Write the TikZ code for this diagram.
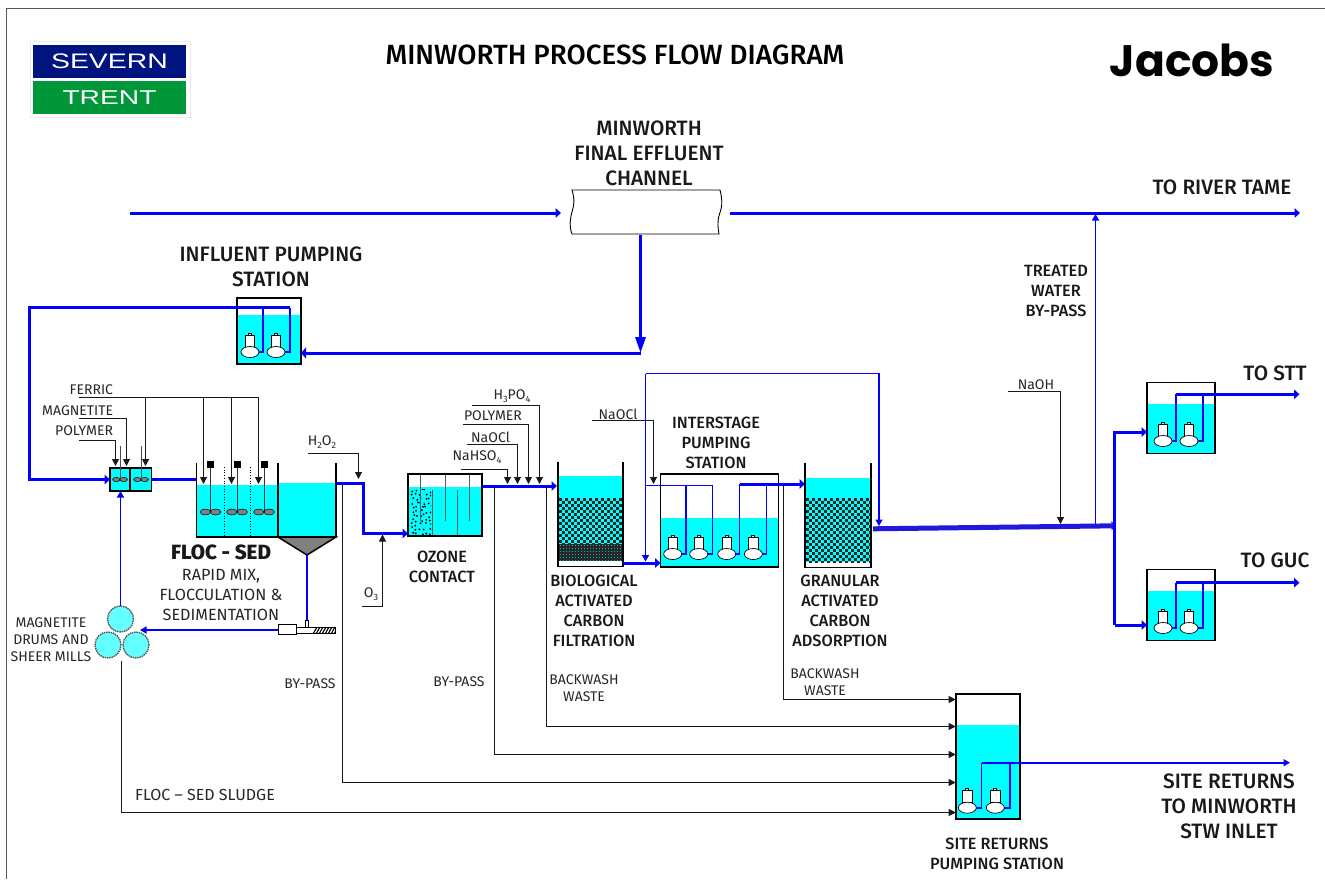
\documentclass[tikz,border=0pt]{standalone}
\usepackage{fontspec}
\setmainfont{Fira Sans}
\newfontfamily\medf{Fira Sans Medium}
\newfontfamily\logof{Liberation Sans}
\newfontfamily\jacf{Poppins}
\usetikzlibrary{arrows.meta,calc}
\definecolor{wat}{HTML}{00FFFF}
\definecolor{flow}{HTML}{0000FF}
\definecolor{flowd}{HTML}{2218DC}
\definecolor{frame}{HTML}{555555}
\definecolor{stblue}{HTML}{00147F}
\definecolor{stgreen}{HTML}{00963A}
\definecolor{drum}{HTML}{66FFFF}
\newcommand{\sbs}[1]{\raisebox{-0.35ex}{\scalebox{0.65}{#1}}}
\newcommand{\chk}[5]{% x1 x2 y1 y2 pitch
  \fill[wat] (#1,#3) rectangle (#2,#4);
  \begin{scope}
  \clip (#1,#3) rectangle (#2,#4);
  \pgfmathsetmacro{\nr}{int((#4-#3)/(#5))}
  \foreach \i in {0,...,\nr}{
    \pgfmathsetmacro{\ph}{mod(\i,2)*(#5)}
    \pgfmathsetmacro{\yy}{#3+(\i+0.5)*(#5)}
    \draw[black!85,line width=#5 pt,dash pattern=on #5 pt off #5 pt,dash phase=\ph pt] (#1,\yy) -- (#2,\yy);
  }
  \end{scope}}
\tikzset{
  every node/.style={inner sep=0pt,outer sep=0pt},
  lab/.style={font=\medf\fontsize{16.3}{20}\selectfont,align=center,text=black!90},
  sml/.style={font=\fontsize{14}{17}\selectfont,align=center,text=black!85},
  huge lab/.style={lab,font=\medf\fontsize{20.8}{25}\selectfont},
  anch/.style={rectangle,minimum width=#1},
  boxn/.style={rectangle,draw=black,line width=1.8pt},
  wall/.style={draw=black,line width=1.8pt},
  main/.style={draw=flow,line width=3pt},
  mainar/.style={main,-{Triangle[length=5.5pt,width=9.5pt]}},
  riser/.style={draw=flow,line width=1.7pt},
  thinar/.style={riser,-{Triangle[length=6.5pt,width=7pt]}},
  chem/.style={draw=black!90,line width=1pt},
  chemar/.style={chem,-{Triangle[length=7pt,width=7pt]}},
  pumpunit/.pic={
    \draw[black,line width=0.7pt,fill=white] (-1.5,-19) rectangle (1.5,-17);
    \draw[black,line width=0.7pt,fill=white] (-4.7,-17) rectangle (4.7,-5);
    \draw[black,line width=0.7pt,fill=white] (0,0) ellipse (9 and 5.5);
    \coordinate (-out) at (8.5,0);
  },
  imp/.pic={
    \draw[black,line width=0.5pt,fill=black!50] (-#1,0) ellipse (#1 and 0.58*#1);
    \draw[black,line width=0.5pt,fill=black!50] (#1,0) ellipse (#1 and 0.58*#1);
  },
}
\begin{document}
\begin{tikzpicture}[x=1pt,y=-1pt]
\useasboundingbox (0,0) rectangle (1325,879);
% frame
\coordinate (fa) at (6,879); \coordinate (fb) at (6,8); \coordinate (fc) at (1325,8);
\draw[frame,line width=1pt] (fa) -- (fb) -- (fc);
% logos
\draw[black!8,fill=white,line width=0.8pt] (30,41) rectangle (190,117);
\node[fill=stblue,minimum width=153pt,minimum height=33pt,text=white,font=\logof\fontsize{20}{24}\selectfont] (sv) at (109.5,61.5) {\scalebox{1.42}[1.05]{SEVERN}};
\node[fill=stgreen,minimum width=153pt,minimum height=33pt,text=white,font=\logof\fontsize{20}{24}\selectfont] (tr) at (109.5,97.5) {\scalebox{1.41}[1]{TRENT}};
\node[font=\jacf\bfseries\fontsize{44}{50}\selectfont] (jac) at (1192,60) {Jacobs};
\node[font=\medf\fontsize{27.8}{32}\selectfont] (title) at (615,55) {MINWORTH PROCESS FLOW DIAGRAM};

% --- water
\fill[wat] (238,315) rectangle (300,364);
\fill[wat] (111,468) rectangle (151,491);
\fill[wat] (197,485) rectangle (278,536);
\fill[wat] (278,483) rectangle (336,536);
\fill[wat] (409,487) rectangle (481,535);
\fill[wat] (559,476) rectangle (622,498);
\chk{559}{622}{498}{544}{3}
\fill[black!85] (559,544) rectangle (622,561);
\foreach \i in {0,...,20}{\foreach \j in {0,...,5}{
  \fill[wat!75!black] ({560+3*\i},{545+3*\j}) rectangle ({561.3+3*\i},{546.3+3*\j});}}
\fill[wat] (661,518) rectangle (778,566);
\fill[wat] (806,478) rectangle (870,498);
\chk{806}{870}{498}{562}{3}
\fill[wat] (1147,404) rectangle (1215,453);
\fill[wat] (1147,591) rectangle (1215,640);
\fill[wat] (956,725) rectangle (1019,819);

% --- channel
\draw[black,line width=0.9pt,fill=white] (572,190) -- (720,190) .. controls (722,198) and (723,205) .. (719.5,214) .. controls (717,222) and (718,228) .. (719,234) -- (572,234) .. controls (569,226) and (570,220) .. (572,212) .. controls (574,205) and (575,200) .. (572,190) -- cycle;
\node[anch=150pt,minimum height=44pt] (chan) at (646,212) {};
\coordinate (rawin) at (130,213);
\coordinate (chl) at (561,213);
\coordinate (chr) at (730,213);
\coordinate (river) at (1300,213);
\coordinate (chd) at (640.5,235);
\coordinate (chj) at (640.5,353);
\draw[mainar] (rawin) -- (chl);
\draw[mainar] (chr) -- (river);
\draw[draw=flow,line width=3pt,-{Triangle[length=16pt,width=10pt]}] (chd) -- (chj);

% --- influent PS
\node[boxn,minimum width=64pt,minimum height=66pt] (ips) at (269,331) {};
\pic (ipa) at (250,352) {pumpunit};
\pic (ipb) at (276,352) {pumpunit};
\coordinate (ipr1) at (263,307.5);
\coordinate (ipr2) at (290,307.5);
\draw[riser] (ipa-out) -| (ipr1);
\draw[riser] (ipb-out) -| (ipr2);
\draw[draw=flow,line width=3pt,-{Triangle[length=5pt,width=11pt]}] (chj) -- (ips.east |- chj);
\coordinate (inl) at (29,307.5);
\coordinate (inb) at (29,479.5);

% --- mix tanks
\node[boxn,minimum width=20pt,minimum height=23pt] (mxa) at (120,479.5) {};
\node[boxn,minimum width=21pt,minimum height=23pt] (mxb) at (141,479.5) {};
\draw[mainar] (ipr2) -- (inl) -- (inb) -- (mxa.west);
\coordinate (fl) at (196,479.5);
\draw[main] (mxb.east) -- (fl);
\pic at (120,479.5) {imp=3.7};
\pic at (141,479.5) {imp=3.7};
\coordinate (sa) at (120,446); \coordinate (sb) at (141,446);
\coordinate (sa2) at (120,479); \coordinate (sb2) at (141,479);
\draw[black!70,line width=0.8pt] (sa) -- (sa2);
\draw[black!70,line width=0.8pt] (sb) -- (sb2);

% --- floc sed
\path[wall] (196.5,463) -- (196.5,537) -- (336,537) -- (336,463);
\path[wall] (278,463) -- (278,537);
\draw[black,line width=1.5pt,fill=black!50] (278,537) -- (336,537) -- (307,555) -- cycle;
\draw[black,dotted,line width=0.7pt] (224,467) -- (224,536);
\draw[black,dotted,line width=0.7pt] (250.5,467) -- (250.5,536);
\foreach \n/\x in {fa/210.5,fb/237,fc/264}{
  \node[fill=black,minimum size=7pt] (sq\n) at (\x,464.5) {};
  \coordinate (sh\n) at (\x,512);
  \draw[black!80,line width=0.8pt] (sq\n) -- (sh\n);
  \pic at (sh\n) {imp=5.2};
}

% --- screw / drums
\coordinate (cone) at (307,555);
\coordinate (tee) at (307,623);
\draw[riser] (cone) -- (tee);
\draw[black,line width=0.6pt,fill=white] (305.5,620) rectangle (308.5,627);
\draw[black,line width=0.7pt,fill=white] (296,627) rectangle (335,633.5);
\begin{scope}
\clip (313,627) rectangle (335,633.5);
\foreach \i in {0,...,7}{\draw[black,line width=1.1pt] ({313+3*\i},634) -- ({317+3*\i},627);}
\end{scope}
\node[draw=black,line width=0.7pt,fill=white,minimum width=18pt,minimum height=10pt] (scr) at (287,629.5) {};
\node[circle,draw=black!65,dash pattern=on 1.5pt off 0.8pt,line width=1.4pt,fill=drum,minimum size=26pt] (da) at (120.5,619) {};
\node[circle,draw=black!65,dash pattern=on 1.5pt off 0.8pt,line width=1.4pt,fill=drum,minimum size=26pt] (db) at (108,645) {};
\node[circle,draw=black!65,dash pattern=on 1.5pt off 0.8pt,line width=1.4pt,fill=drum,minimum size=26pt] (dc) at (136,645) {};
\coordinate (drin) at (140,630);
\draw[thinar] (scr.west |- drin) -- (drin);
\draw[thinar] (da.north) -- (mxa.south -| da.north);

% --- chemicals at head
\coordinate (fe0) at (79,397.5); \coordinate (fe3) at (258.5,397.5);
\draw[chem] (fe0) -- (fe3);
\foreach \n/\x/\y in {a/145.5/466,b/203.5/484,c/231.5/484,d/258.5/484}{
  \coordinate (fet\n) at (\x,397.5); \coordinate (feb\n) at (\x,\y);
  \draw[chemar] (fet\n) -- (feb\n);
}
\coordinate (mg0) at (79,418.5); \coordinate (mg1) at (126.5,418.5); \coordinate (mg2) at (126.5,466);
\draw[chemar] (mg0) -- (mg1) -- (mg2);
\coordinate (po0) at (79,440.5); \coordinate (po1) at (115.5,440.5); \coordinate (po2) at (115.5,466);
\draw[chemar] (po0) -- (po1) -- (po2);
\coordinate (hp0) at (308,453.5); \coordinate (hp1) at (358.5,453.5); \coordinate (hp2) at (358.5,479);
\draw[chemar] (hp0) -- (hp1) -- (hp2);

% --- sed to ozone
\coordinate (se0) at (337,483); \coordinate (se1) at (363,483); \coordinate (se2) at (363,533.5);

% --- ozone contact
\node[boxn,minimum width=74pt,minimum height=62pt] (oz) at (445,505) {};
\draw[mainar] (se0) -- (se1) -- (se2) -- (oz.west |- se2);
\pgfmathsetseed{11}
\begin{scope}
\clip (410,489) rectangle (431,534);
\foreach \i in {0,...,4}{\foreach \j in {0,...,10}{
  \fill[black] ({411+4.2*\i+3.6*rnd},{489+4.2*\j+3.6*rnd}) circle (1.05);}}
\end{scope}
\foreach \n/\x/\a/\b in {a/420.7/475/521,b/445/475/521,c/457/490/535,d/469/475/521,e/432.7/490/535}{
  \coordinate (bf\n) at (\x,\a); \coordinate (bg\n) at (\x,\b);
  \draw[black!65,line width=0.9pt] (bf\n) -- (bg\n);
}
\coordinate (o30) at (362,606.5); \coordinate (o31) at (382.5,606.5); \coordinate (o32) at (382.5,534.5);
\draw[chemar] (o30) -- (o31) -- (o32);

% --- ozone to BAC
\coordinate (bacin) at (557,486);
\draw[mainar] (oz.east |- bacin) -- (bacin);
\foreach \n/\xa/\xb/\y in {a/461/507.5/469.5,b/467/517.5/444.5,c/463/528.5/424.5,d/472/539.5/405.5}{
  \coordinate (cx\n) at (\xa,\y); \coordinate (cy\n) at (\xb,\y); \coordinate (cz\n) at (\xb,484);
  \draw[chemar] (cx\n) -- (cy\n) -- (cz\n);
}

% --- BAC
\path[wall] (558,462) -- (558,566.5) -- (623,566.5) -- (623,462);
\node[anch=65pt,minimum height=104pt] (bac) at (590.5,514) {};

% --- interstage
\node[boxn,minimum width=118pt,minimum height=93pt] (isps) at (719.5,520.8) {};
\coordinate (bacout) at (623,563);
\draw[mainar] (bacout) -- (isps.west |- bacout);
\foreach \n/\x in {a/672.7,b/698.7,c/726.7,d/753.3}{\pic (is\n) at (\x,554) {pumpunit};}
\coordinate (ra) at (686,485.5); \coordinate (rb) at (712.5,485.5); \coordinate (rc) at (739.5,484); \coordinate (rd) at (766.5,484);
\coordinate (byl) at (645.5,485.5);
\draw[riser] (isa-out) -| (ra);
\draw[riser] (isb-out) -| (rb);
\draw[riser] (isc-out) -| (rc);
\draw[riser] (isd-out) -| (rd);
\draw[riser] (byl) -- (rb);
\coordinate (bt0) at (645.5,373.5); \coordinate (bt1) at (879,373.5); \coordinate (bt2) at (879,526);
\coordinate (bb) at (645.5,561.5);
\draw[thinar] (bt0) -- (bb);
\draw[thinar] (bt0) -- (bt1) -- (bt2);
\coordinate (no0) at (592,420.5); \coordinate (no1) at (653.5,420.5); \coordinate (no2) at (653.5,484);
\draw[chemar] (no0) -- (no1) -- (no2);

% --- GAC
\path[wall] (805,463) -- (805,567.5) -- (870.7,567.5) -- (870.7,463);
\node[anch=66pt,minimum height=105pt] (gac) at (838,515) {};
\draw[mainar] (rc) -- (gac.west |- rc);

% --- GAC outlet & splits
\coordinate (gout) at (873,528.8);
\coordinate (gend) at (1115.5,525.8);
\draw[draw=flowd,line width=5pt,-{Triangle[length=4pt,width=9pt]}] (gout) -- (gend);
\coordinate (hdt) at (1114.8,432); \coordinate (hdb) at (1114.8,625);
\node[boxn,minimum width=68pt,minimum height=71pt] (stt) at (1181,418) {};
\node[boxn,minimum width=68pt,minimum height=71pt] (guc) at (1181,605) {};
\draw[mainar] (hdb) -- (hdt) -- (stt.west |- hdt);
\draw[mainar] (hdb) -- (guc.west |- hdb);
\coordinate (tw0) at (1095.5,526); \coordinate (tw1) at (1095.5,214);
\draw[thinar] (tw0) -- (tw1);
\coordinate (na0) at (1008,391.5); \coordinate (na1) at (1060.5,391.5); \coordinate (na2) at (1060.5,524);
\draw[chemar] (na0) -- (na1) -- (na2);

% STT / GUC pumps
\foreach \t/\yy/\yt in {s/441/394.3,g/628/582.7}{
  \pic (\t a) at (1163,\yy) {pumpunit};
  \pic (\t b) at (1189,\yy) {pumpunit};
  \coordinate (\t ra) at (1176,\yt); \coordinate (\t rb) at (1203,\yt); \coordinate (\t end) at (1299.5,\yt);
  \draw[riser] (\t a-out) -| (\t ra);
  \draw[riser] (\t b-out) -| (\t rb);
  \draw[mainar] (\t ra) -- (\t end);
}

% --- site returns
\node[boxn,minimum width=64pt,minimum height=125.6pt] (srp) at (987.7,756.5) {};
\pic (sra) at (967.3,807.7) {pumpunit};
\pic (srb) at (995.3,807.7) {pumpunit};
\coordinate (sr1) at (981.5,762.7); \coordinate (sr2) at (1010,762.7); \coordinate (srend) at (1290,762.7);
\draw[riser] (sra-out) -| (sr1);
\draw[riser] (srb-out) -| (sr2);
\draw[thinar] (sr1) -- (srend);
% returns
\coordinate (w1) at (783.5,485); \coordinate (w1b) at (783.5,699.5);
\coordinate (w2) at (546.5,487); \coordinate (w2b) at (546.5,726.5);
\coordinate (w3) at (494.5,487); \coordinate (w3b) at (494.5,754.5);
\coordinate (w4) at (342.5,483); \coordinate (w4b) at (342.5,782.5);
\coordinate (w5) at (121.5,661); \coordinate (w5b) at (121.5,812.5);
\foreach \a/\b in {w1/w1b,w2/w2b,w3/w3b,w4/w4b,w5/w5b}{
  \draw[chemar] (\a) -- (\b) -- (srp.west |- \b);
}

% --- labels
\node[huge lab] (l1) at (649,153) {MINWORTH\\FINAL EFFLUENT\\CHANNEL};
\node[huge lab] (l2) at (271,266.5) {INFLUENT PUMPING\\STATION};
\node[huge lab] (l3) at (1222,187) {TO RIVER TAME};
\node[huge lab] (l4) at (1275,373) {TO STT};
\node[huge lab] (l5) at (1275,560) {TO GUC};
\node[lab] (l6) at (1056,291) {TREATED\\WATER\\BY-PASS};
\node[huge lab] (l7) at (1229,806) {SITE RETURNS\\TO MINWORTH\\STW INLET};
\node[lab] (l8) at (997,854) {SITE RETURNS\\PUMPING STATION};
\node[lab] (l9) at (442,567) {OZONE\\CONTACT};
\node[lab] (l10) at (594,611) {BIOLOGICAL\\ACTIVATED\\CARBON\\FILTRATION};
\node[lab] (l11) at (716,443) {INTERSTAGE\\PUMPING\\STATION};
\node[lab] (l12) at (840,611) {GRANULAR\\ACTIVATED\\CARBON\\ADSORPTION};
\node[lab,font=\medf\bfseries\fontsize{20.6}{24}\selectfont] (l13) at (221,552) {FLOC - SED};
\node[sml,font=\fontsize{16.2}{20}\selectfont] (l14) at (221,595) {RAPID MIX,\\FLOCCULATION \&\\SEDIMENTATION};
\node[sml,anchor=east] (l15) at (113,390) {FERRIC};
\node[sml,anchor=east] (l16) at (113,411) {MAGNETITE};
\node[sml,anchor=east] (l17) at (113,431) {POLYMER};
\node[sml] (l18) at (51,640) {MAGNETITE\\DRUMS AND\\SHEER MILLS};
\node[sml] (l19) at (322,442) {H\sbs{2}O\sbs{2}};
\node[sml] (l20) at (371,594) {O\sbs{3}};
\node[sml] (l21) at (477,457) {NaHSO\sbs{4}};
\node[sml] (l22) at (490.5,437) {NaOCl};
\node[sml] (l23) at (493,416) {POLYMER};
\node[sml] (l24) at (512,396) {H\sbs{3}PO\sbs{4}};
\node[sml] (l25) at (618,414) {NaOCl};
\node[sml] (l26) at (1036,385) {NaOH};
\node[sml] (l27) at (310,684) {BY-PASS};
\node[sml] (l28) at (459,682) {BY-PASS};
\node[sml] (l29) at (584,688.5) {BACKWASH\\WASTE};
\node[sml] (l30) at (825,682) {BACKWASH\\WASTE};
\node[sml,font=\fontsize{16}{17}\selectfont] (l31) at (205,795) {FLOC -- SED SLUDGE};
\end{tikzpicture}
\end{document}
